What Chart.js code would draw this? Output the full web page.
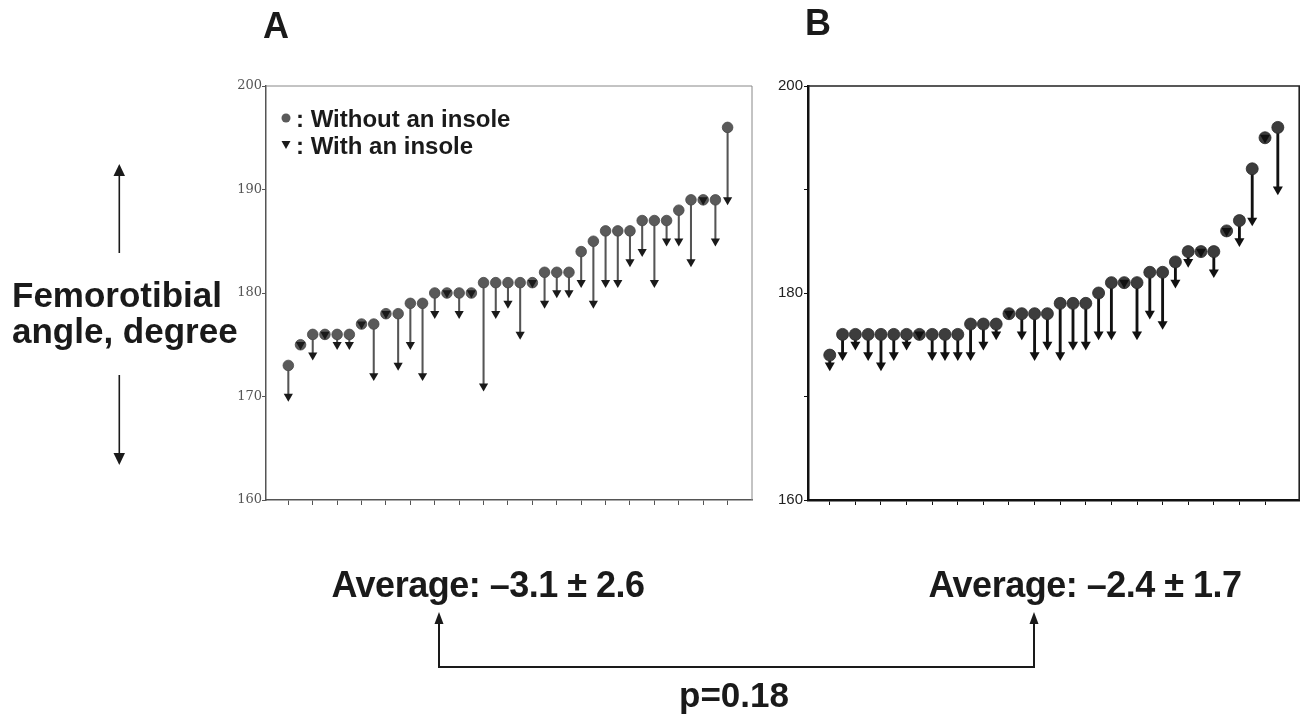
<!DOCTYPE html>
<html><head><meta charset="utf-8">
<script src="https://cdn.jsdelivr.net/npm/chart.js@4"></script>
<style>
html,body{margin:0;padding:0;background:#fff;width:1300px;height:715px;overflow:hidden;}
#wrap{position:relative;width:1300px;height:715px;background:#fff;overflow:hidden;}
canvas{position:absolute;}
#cA{left:200px;top:70px;}
#cB{left:760px;top:70px;}
svg{position:absolute;left:0;top:0;}
svg text{font-family:"Liberation Sans",Arial,Helvetica,sans-serif;font-weight:bold;fill:#1a1a1a;}
</style></head><body>
<div id="wrap">
<canvas id="cA" width="570" height="450"></canvas>
<canvas id="cB" width="546" height="450"></canvas>
<svg width="1300" height="715" viewBox="0 0 1300 715">
  <text x="263" y="38" font-size="36">A</text>
  <text x="805" y="35" font-size="36">B</text>

  <circle cx="286" cy="118" r="4.5" fill="#5a5a5a"/>
  <polygon points="281.5,141 290.5,141 286,149" fill="#1a1a1a"/>
  <text x="296" y="127" font-size="24">: Without an insole</text>
  <text x="296" y="154" font-size="24">: With an insole</text>

  <text x="12" y="307" font-size="35">Femorotibial</text>
  <text x="12" y="343" font-size="35">angle, degree</text>
  <line x1="119.3" y1="253" x2="119.3" y2="173" stroke="#1a1a1a" stroke-width="1.6"/>
  <polygon points="113.5,176 125,176 119.3,164" fill="#1a1a1a"/>
  <line x1="119.3" y1="375" x2="119.3" y2="456" stroke="#1a1a1a" stroke-width="1.6"/>
  <polygon points="113.5,453 125,453 119.3,465" fill="#1a1a1a"/>

  <text x="488" y="597" font-size="36" letter-spacing="-0.5" text-anchor="middle">Average: –3.1 ± 2.6</text>
  <text x="1085" y="597" font-size="36" letter-spacing="-0.5" text-anchor="middle">Average: –2.4 ± 1.7</text>
  <polyline points="439,622 439,667 1034,667 1034,622" fill="none" stroke="#1a1a1a" stroke-width="2"/>
  <polygon points="434.5,624 443.5,624 439,612" fill="#1a1a1a"/>
  <polygon points="1029.5,624 1038.5,624 1034,612" fill="#1a1a1a"/>
  <text x="734" y="707" font-size="35" text-anchor="middle">p=0.18</text>
</svg>
</div>
<script>
// Panel A (37 subjects): femorotibial angle without / with an insole
const withoutInsoleA = [173,175,176,176,176,176,177,177,178,178,179,179,180,180,180,180,181,181,181,181,181,182,182,182,184,185,186,186,186,187,187,187,188,189,189,189,196];
const withInsoleA    = [170,175,174,176,175,175,177,172,178,173,175,172,178,180,178,180,171,178,179,176,181,179,180,180,181,179,181,181,183,184,181,185,185,183,189,185,189];
// Panel B (36 subjects)
const withoutInsoleB = [174,176,176,176,176,176,176,176,176,176,176,177,177,177,178,178,178,178,179,179,179,180,181,181,181,182,182,183,184,184,184,186,187,192,195,196];
const withInsoleB    = [173,174,175,174,173,174,175,176,174,174,174,174,175,176,178,176,174,175,174,175,175,176,176,181,176,178,177,181,183,184,182,186,185,187,195,190];

const xTicksA = [1,3,5,7,9,11,13,15,17,19,21,23,25,27,29,31,33,35,37];
const xTicksB = [1,3,5,7,9,11,13,15,17,19,21,23,25,27,29,31,33,35];
const yTicks = [160,170,180,190,200];
const yTickLabelsA = ['160','170','180','190','200'];
const yTickLabelsB = ['160','','180','','200'];

const framePlugin = {
  id: 'frame',
  beforeDatasetsDraw(chart, args, opts) {
    const {ctx, chartArea: a} = chart;
    ctx.save();
    ctx.strokeStyle = opts.color;
    ctx.lineWidth = opts.width;
    ctx.beginPath();
    ctx.moveTo(a.left, a.top);
    ctx.lineTo(a.right, a.top);
    ctx.lineTo(a.right, a.bottom);
    ctx.stroke();
    ctx.restore();
  }
};

function build(canvasId, before, after, xTicks, yLabels, st) {
  const bars = before.map((b, i) => ({x: i + 1, y: [after[i], b]}));
  const circles = before.map((b, i) => ({x: i + 1, y: b}));
  const tris = after.map((v, i) => ({x: i + 1, y: v}));
  return new Chart(document.getElementById(canvasId), {
    type: 'scatter',
    data: {
      datasets: [
        {type: 'bar', data: bars, backgroundColor: st.lineColor, borderWidth: 0,
         barThickness: st.lineW, grouped: false, order: 3},
        {type: 'scatter', data: circles, pointStyle: 'circle', pointRadius: st.circR,
         backgroundColor: st.circFill, borderColor: st.circEdge, borderWidth: 0.8, order: 2},
        {type: 'scatter', data: tris, pointStyle: 'triangle', rotation: 180, pointRadius: st.triR,
         backgroundColor: st.triFill, borderWidth: 0, order: 1}
      ]
    },
    options: {
      responsive: false,
      animation: false,
      devicePixelRatio: 1,
      layout: {padding: {left: 0, top: 16, right: st.padRight, bottom: 0}},
      plugins: {legend: {display: false}, tooltip: {enabled: false},
                frame: {color: st.frameColor, width: st.frameW}},
      scales: {
        x: {
          type: 'linear', min: st.xMin, max: st.xMax, offset: false,
          afterBuildTicks: s => { s.ticks = xTicks.map(v => ({value: v})); },
          afterFit: s => { s.height = 20; s.paddingLeft = 0; s.paddingRight = 0; },
          ticks: {callback: () => '', padding: 0},
          grid: {drawOnChartArea: false, drawTicks: true, tickLength: 5, color: st.tickColor, offset: false, lineWidth: 1},
          border: {display: true, color: st.axisColor, width: st.axisW}
        },
        y: {
          type: 'linear', min: 160, max: 200, beginAtZero: false,
          afterBuildTicks: s => { s.ticks = yTicks.map(v => ({value: v})); },
          afterFit: s => { s.width = st.yAxisW; },
          ticks: {callback: (v, i) => yLabels[i], padding: st.labelPad, color: st.labelColor,
                  font: st.labelFont},
          grid: {drawOnChartArea: false, drawTicks: true, tickLength: 4, color: st.tickColor, lineWidth: 1},
          border: {display: true, color: st.axisColor, width: st.axisW}
        }
      }
    },
    plugins: [framePlugin]
  });
}

build('cA', withoutInsoleA, withInsoleA, xTicksA, yTickLabelsA, {
  lineColor: '#555', lineW: 1.4, circR: 5.3, circFill: '#5a5a5a', circEdge: '#484848', triR: 5.3, triFill: '#1a1a1a',
  padRight: 18, xMin: -0.83, xMax: 39.0, yAxisW: 66,
  tickColor: '#555', axisColor: '#555', axisW: 1.5, frameColor: '#888', frameW: 1,
  labelPad: 0, labelColor: '#555', labelFont: {family: '"DejaVu Serif", serif', size: 13}
});
build('cB', withoutInsoleB, withInsoleB, xTicksB, yTickLabelsB, {
  lineColor: '#111', lineW: 2.2, circR: 6, circFill: '#3d3d3d', circEdge: '#2a2a2a', triR: 5.8, triFill: '#111',
  padRight: 2, xMin: -0.70, xMax: 37.67, yAxisW: 48,
  tickColor: '#111', axisColor: '#111', axisW: 2.5, frameColor: '#222', frameW: 1.6,
  labelPad: 1, labelColor: '#222', labelFont: {family: '"Liberation Sans", Arial, sans-serif', size: 15}
});
</script>
</body></html>
